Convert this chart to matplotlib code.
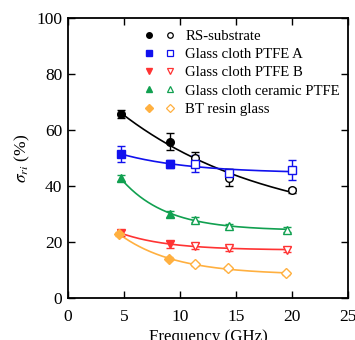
import numpy as np
import matplotlib
matplotlib.use("Agg")
import matplotlib.pyplot as plt
from matplotlib.lines import Line2D
from matplotlib.legend_handler import HandlerTuple

plt.rcParams["font.family"] = "Liberation Serif"
plt.rcParams["mathtext.fontset"] = "stix"

# Values.
names = ["RS-substrate", "Glass cloth PTFE A", "Glass cloth PTFE B",
         "Glass cloth ceramic PTFE", "BT resin glass"]
freq = [
    [4.7, 9.1, 11.3, 14.4, 20.0],
    [4.7, 9.1, 11.3, 14.4, 20.0],
    [4.7, 9.1, 11.3, 14.4, 19.6],
    [4.7, 9.1, 11.3, 14.4, 19.6],
    [4.6, 9.0, 11.3, 14.3, 19.5],
]
sigma = [
    [65.8, 55.8, 50.0, 43.0, 38.4],
    [51.4, 47.9, 48.0, 44.5, 45.7],
    [23.2, 19.2, 18.5, 17.7, 17.3],
    [42.8, 30.0, 28.0, 25.8, 24.4],
    [22.8, 14.0, 12.0, 10.6, 8.8],
]
errors = [
    [1.5, 3.0, 2.0, 3.0, 1.0],
    [3.0, 1.5, 3.0, 1.0, 3.5],
    [1.2, 1.2, 1.0, 0.8, 0.8],
    [1.0, 1.0, 0.8, 0.8, 1.0],
    [0.8, 0.6, 0.6, 0.6, 0.6],
]
colors = ["black", "#1111ee", "#ff3333", "#11a050", "#ffb040"]
markers = ["o", "s", "v", "^", "D"]
marker_sizes = [5.5, 6, 6, 6, 5]


# Fit y = a + b*exp(-c*x) by scanning c and solving a, b by least squares.
def fit_decay(x, y):
    x = np.asarray(x)
    y = np.asarray(y)
    best = None
    for c in np.linspace(0.01, 1.0, 400):
        A = np.column_stack([np.ones_like(x), np.exp(-c * x)])
        coef, _, _, _ = np.linalg.lstsq(A, y, rcond=None)
        err = np.sum((A @ coef - y) ** 2)
        if best is None or err < best[0]:
            best = (err, c, coef)
    _, c, coef = best
    return lambda t: coef[0] + coef[1] * np.exp(-c * t)


fig = plt.figure(figsize=(3.55, 3.40), dpi=100)
ax = fig.add_axes([0.1915, 0.1235, 0.7885, 0.8235])

handles = []
for i in range(len(names)):
    x = np.array(freq[i])
    y = np.array(sigma[i])
    e = np.array(errors[i])
    c = colors[i]

    f = fit_decay(x, y)
    xs = np.linspace(x[0], x[-1], 200)
    ax.plot(xs, f(xs), color=c, lw=1.2, zorder=2)

    ax.errorbar(x, y, yerr=e, fmt="none", ecolor=c, elinewidth=1.0,
                capsize=3, capthick=1.0, zorder=3)
    ax.plot(x[:2], y[:2], linestyle="none", marker=markers[i],
            ms=marker_sizes[i], color=c, mec=c, zorder=4)
    ax.plot(x[2:], y[2:], linestyle="none", marker=markers[i],
            ms=marker_sizes[i], mfc="white", mec=c, mew=1.0, zorder=4)

    filled = Line2D([], [], linestyle="none", marker=markers[i], ms=4,
                    color=c, mec=c)
    empty = Line2D([], [], linestyle="none", marker=markers[i], ms=4,
                   mfc="white", mec=c, mew=0.9)
    handles.append((filled, empty))

ax.legend(handles, names, handler_map={tuple: HandlerTuple(ndivide=None, pad=0.0)},
          loc="upper left", bbox_to_anchor=(0.2125, 0.995), frameon=False,
          fontsize=10.6, handlelength=2.95, handletextpad=0.27,
          labelspacing=0.33, borderaxespad=0.3)

ax.set_xlim(0, 25)
ax.set_ylim(0, 100)
ax.set_xticks([0, 5, 10, 15, 20, 25])
ax.set_yticks([0, 20, 40, 60, 80, 100])
ax.tick_params(direction="in", length=5, width=1.0, top=True, right=True,
               labelsize=12.5)
ax.tick_params(axis="x", pad=8)
ax.tick_params(axis="y", pad=4)
for s in ax.spines.values():
    s.set_linewidth(1.3)

ax.set_xlabel("Frequency (GHz)", fontsize=12.2, labelpad=3)
ax.set_ylabel(r"$\sigma_{ri}$ (%)", fontsize=12.5, labelpad=3)

fig.savefig("out.png", dpi=100)
